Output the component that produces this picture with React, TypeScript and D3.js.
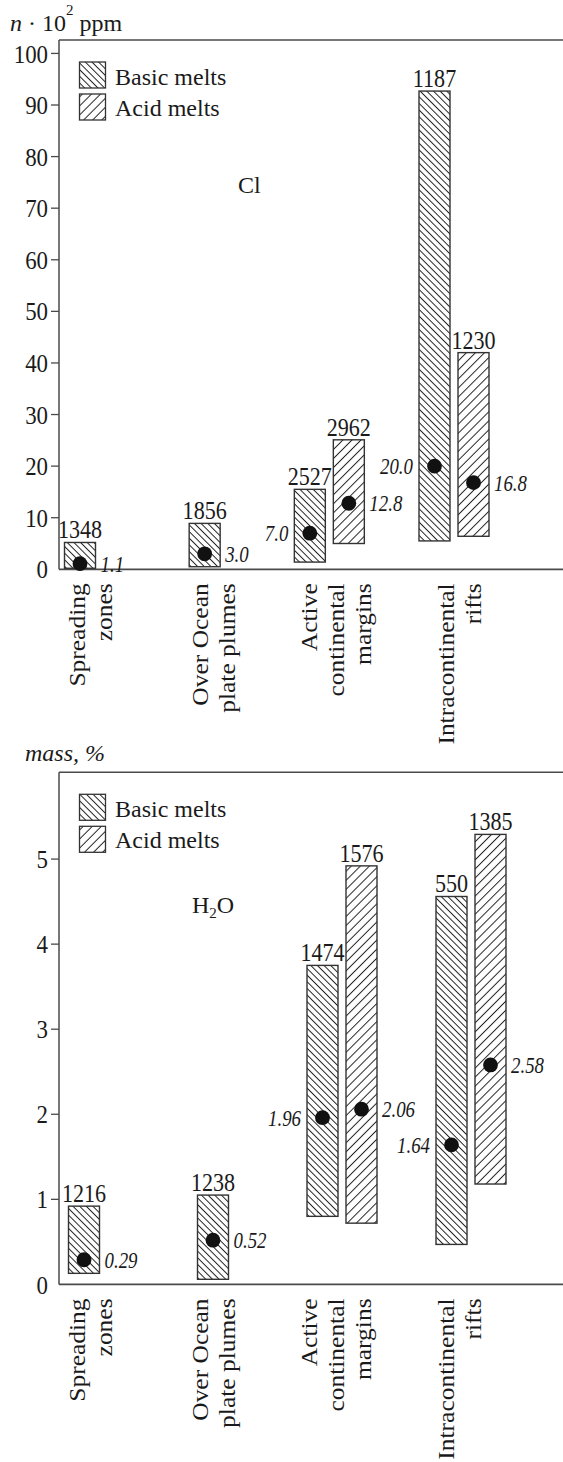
import React from "react";
import * as d3 from "d3";

// Tectonic settings along the x axis
const categories = [
  "Spreading zones",
  "Over Ocean plate plumes",
  "Active continental margins",
  "Intracontinental rifts",
];
const categoryLines = [
  ["Spreading", "zones"],
  ["Over Ocean", "plate plumes"],
  ["Active", "continental", "margins"],
  ["Intracontinental", "rifts"],
];

// Cl, n·10^2 ppm — ranges, means and number of analyses
const clBasicLow = [0.2, 0.5, 1.4, 5.5];
const clBasicHigh = [5.2, 8.9, 15.5, 92.7];
const clBasicMean = [1.1, 3.0, 7.0, 20.0];
const clBasicN = [1348, 1856, 2527, 1187];
const clAcidLow = [null, null, 5.0, 6.4];
const clAcidHigh = [null, null, 25.1, 42.0];
const clAcidMean = [null, null, 12.8, 16.8];
const clAcidN = [null, null, 2962, 1230];
const clTicks = [0, 10, 20, 30, 40, 50, 60, 70, 80, 90, 100];

// H2O, mass %
const h2oBasicLow = [0.13, 0.06, 0.8, 0.47];
const h2oBasicHigh = [0.92, 1.05, 3.75, 4.56];
const h2oBasicMean = [0.29, 0.52, 1.96, 1.64];
const h2oBasicN = [1216, 1238, 1474, 550];
const h2oAcidLow = [null, null, 0.72, 1.18];
const h2oAcidHigh = [null, null, 4.92, 5.29];
const h2oAcidMean = [null, null, 2.06, 2.58];
const h2oAcidN = [null, null, 1576, 1385];
const h2oTicks = [0, 1, 2, 3, 4, 5];

const legendItems = ["Basic melts", "Acid melts"];

const FONT = '"Liberation Serif", "Times New Roman", Times, serif';
const INK = "#1a1a1a";
const LINE = "#4a4a4a";
const W = 563;
const H = 1462;
const plotLeft = 59;
const plotRight = 563;
const barW = 31;
const pairOffset = 19.5;

type Num = number | null;

// Upright text with a slightly narrowed face
function NText(props: {
  x: number;
  y: number;
  sx?: number;
  size: number;
  anchor?: "start" | "middle" | "end";
  italic?: boolean;
  dy?: string;
  children: React.ReactNode;
}) {
  const { x, y, sx = 1, size, anchor = "start", italic, dy, children } = props;
  return (
    <text
      transform={`translate(${x},${y}) scale(${sx},1)`}
      dy={dy}
      textAnchor={anchor}
      fontSize={size}
      fontStyle={italic ? "italic" : undefined}
    >
      {children}
    </text>
  );
}

type PanelProps = {
  top: number;
  bottom: number;
  yMax: number;
  ticks: number[];
  xRange: [number, number];
  basicLow: number[];
  basicHigh: number[];
  basicMean: number[];
  basicN: number[];
  acidLow: Num[];
  acidHigh: Num[];
  acidMean: Num[];
  acidN: Num[];
  digits: number;
  title: React.ReactNode;
  species: React.ReactNode;
  speciesAt: [number, number];
};

function Panel(p: PanelProps) {
  const y = d3.scaleLinear().domain([0, p.yMax]).range([p.bottom, p.top]);
  const x = d3.scalePoint<string>().domain(categories).range(p.xRange);
  const labelX = d3.scalePoint<string>().domain(categories).range([92, 461]);
  const fmt = d3.format(`.${p.digits}f`);

  const bars: any[] = [];
  categories.forEach((c, i) => {
    const paired = p.acidHigh[i] != null;
    const cx = x(c) as number;
    const bx = paired ? cx - pairOffset : cx;
    bars.push({
      key: `b${i}`, cx: bx, lo: p.basicLow[i], hi: p.basicHigh[i],
      mean: p.basicMean[i], n: p.basicN[i], kind: "basic", left: paired,
    });
    if (paired) {
      bars.push({
        key: `a${i}`, cx: cx + pairOffset, lo: p.acidLow[i], hi: p.acidHigh[i],
        mean: p.acidMean[i], n: p.acidN[i], kind: "acid", left: false,
      });
    }
  });

  const legendTop = p.top + 22;

  return (
    <g fontFamily={FONT} fill={INK}>
      {p.title}
      {/* frame */}
      <line x1={plotLeft} x2={plotRight} y1={p.top} y2={p.top} stroke={LINE} strokeWidth={1.5} />
      <line x1={plotLeft} x2={plotLeft} y1={p.top} y2={p.bottom} stroke={LINE} strokeWidth={1.5} />
      <line x1={plotLeft} x2={plotRight} y1={p.bottom} y2={p.bottom} stroke={LINE} strokeWidth={1.8} />
      {/* y ticks */}
      {p.ticks.map((t) => (
        <g key={t}>
          {t !== 0 && (
            <line x1={plotLeft - 8} x2={plotLeft} y1={y(t)} y2={y(t)} stroke={LINE} strokeWidth={1.3} />
          )}
          <NText x={plotLeft - 11} y={y(t)} dy="0.35em" anchor="end" size={26} sx={0.88}>
            {t}
          </NText>
        </g>
      ))}
      {/* legend */}
      {legendItems.map((name, k) => (
        <g key={name}>
          <rect
            x={79.5}
            y={legendTop + k * 32}
            width={26}
            height={26}
            fill={`url(#hatch-${k === 0 ? "basic" : "acid"})`}
            stroke="#333"
            strokeWidth={1.3}
          />
          <text x={115} y={legendTop + 23 + k * 31} fontSize={24}>
            {name}
          </text>
        </g>
      ))}
      <text x={p.speciesAt[0]} y={p.speciesAt[1]} fontSize={24}>
        {p.species}
      </text>
      {/* range bars */}
      {bars.map((b) => {
        const yTop = y(b.hi);
        const yBot = y(b.lo);
        return (
          <g key={b.key}>
            <rect
              x={b.cx - barW / 2}
              y={yTop}
              width={barW}
              height={yBot - yTop}
              fill={`url(#hatch-${b.kind})`}
              stroke="#333"
              strokeWidth={1.4}
            />
            <NText x={b.cx} y={yTop - 4} anchor="middle" size={26} sx={0.85}>
              {b.n}
            </NText>
            <circle cx={b.cx} cy={y(b.mean)} r={7.4} fill="#111" />
            <NText
              x={b.left ? b.cx - barW / 2 - 6 : b.cx + barW / 2 + 5}
              y={y(b.mean)}
              dy="0.35em"
              anchor={b.left ? "end" : "start"}
              size={23}
              sx={0.82}
              italic
            >
              {fmt(b.mean)}
            </NText>
          </g>
        );
      })}
      {/* category labels */}
      {categories.map((c, i) => {
        const lines = categoryLines[i];
        const gap = 27;
        return lines.map((ln, j) => {
          const lx = (labelX(c) as number) + (j - (lines.length - 1) / 2) * gap;
          return (
            <text
              key={`${c}-${j}`}
              transform={`translate(${lx + 6},${p.bottom + 14}) rotate(-90) scale(1,0.88)`}
              textAnchor="end"
              fontSize={25.5}
            >
              {ln}
            </text>
          );
        });
      })}
    </g>
  );
}

export default function App() {
  const clTop = 40;
  const clBottom = 569.3;
  const h2oTop = 772.3;
  const h2oBottom = 1284.4;
  return (
    <svg
      width={W}
      height={H}
      viewBox={`0 0 ${W} ${H}`}
      style={{ position: "absolute", left: 0, top: 0, background: "#fff" }}
    >
      <defs>
        <pattern
          id="hatch-basic"
          patternUnits="userSpaceOnUse"
          width={4.7}
          height={4.7}
          patternTransform="rotate(-45)"
        >
          <line x1={2.35} y1={0} x2={2.35} y2={4.7} stroke="#222" strokeWidth={1} />
        </pattern>
        <pattern
          id="hatch-acid"
          patternUnits="userSpaceOnUse"
          width={6.4}
          height={6.4}
          patternTransform="rotate(45)"
        >
          <line x1={3.2} y1={0} x2={3.2} y2={6.4} stroke="#222" strokeWidth={1} />
        </pattern>
      </defs>
      <rect x={0} y={0} width={W} height={H} fill="#fff" />
      <Panel
        top={clTop}
        bottom={clBottom}
        yMax={102.6}
        ticks={clTicks}
        xRange={[80, 454]}
        basicLow={clBasicLow}
        basicHigh={clBasicHigh}
        basicMean={clBasicMean}
        basicN={clBasicN}
        acidLow={clAcidLow}
        acidHigh={clAcidHigh}
        acidMean={clAcidMean}
        acidN={clAcidN}
        digits={1}
        title={
          <text x={10} y={31} fontSize={24}>
            <tspan fontStyle="italic">n</tspan>
            <tspan> · 10</tspan>
            <tspan dy={-16} fontSize={15}>2</tspan>
            <tspan dy={16}> ppm</tspan>
          </text>
        }
        species="Cl"
        speciesAt={[238, 193]}
      />
      <Panel
        top={h2oTop}
        bottom={h2oBottom}
        yMax={6.02}
        ticks={h2oTicks}
        xRange={[84, 471]}
        basicLow={h2oBasicLow}
        basicHigh={h2oBasicHigh}
        basicMean={h2oBasicMean}
        basicN={h2oBasicN}
        acidLow={h2oAcidLow}
        acidHigh={h2oAcidHigh}
        acidMean={h2oAcidMean}
        acidN={h2oAcidN}
        digits={2}
        title={
          <text x={25} y={761} fontSize={24} fontStyle="italic">
            mass, %
          </text>
        }
        species={
          <>
            <tspan>H</tspan>
            <tspan dy={5} fontSize={15}>2</tspan>
            <tspan dy={-5}>O</tspan>
          </>
        }
        speciesAt={[192, 913]}
      />
    </svg>
  );
}
